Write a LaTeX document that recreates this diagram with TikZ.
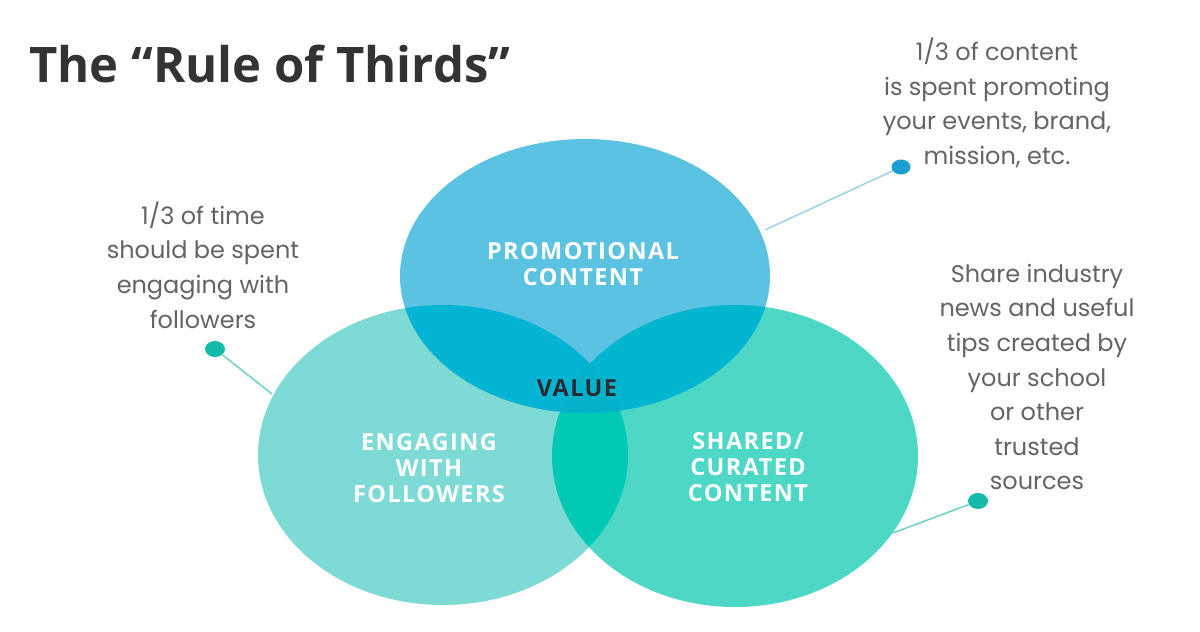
\documentclass[tikz,border=0pt]{standalone}
\usepackage{fontspec}
\setmainfont{Open Sans}
\newfontfamily\notefont{Poppins}
\newfontfamily\labelfont[LetterSpace=6]{Open Sans}
\usepackage{tikz}
\usetikzlibrary{positioning, calc, shapes.geometric}

\definecolor{promoblue}{HTML}{5BC3E1}
\definecolor{engteal}{HTML}{7DDAD5}
\definecolor{shareteal}{HTML}{4DD8C6}
\definecolor{promoeng}{HTML}{04B4D2}
\definecolor{promoshare}{HTML}{04B5CF}
\definecolor{engshare}{HTML}{02C9B4}
\definecolor{allthree}{HTML}{06B2C9}
\definecolor{dotblue}{HTML}{1A9FCF}
\definecolor{dotteal}{HTML}{15BBAA}
\definecolor{lineblue}{HTML}{96D5E6}
\definecolor{lineteal}{HTML}{6FD0C8}
\definecolor{titlegray}{HTML}{333333}
\definecolor{notegray}{HTML}{646464}
\definecolor{valuedark}{HTML}{2B2B35}

\newcommand{\promopath}{(585,276) ellipse [x radius=185, y radius=137]}
\newcommand{\engpath}{(443,455) ellipse [x radius=185, y radius=150]}
\newcommand{\sharepath}{(735,456) ellipse [x radius=183, y radius=151]}

\tikzset{
    circlelabel/.style={text=white, align=center, inner sep=0pt,
        font=\labelfont\fontsize{23.5}{26}\selectfont\bfseries},
    notetext/.style={text=notegray, align=center, inner sep=0pt,
        font=\notefont\fontsize{24}{34.6}\selectfont},
    notedot/.style={ellipse, inner sep=0pt, minimum width=20pt, minimum height=16pt},
    noteline/.style={line width=1.5pt}
}

\begin{document}
\begin{tikzpicture}[x=1pt, y=-1pt]
    \useasboundingbox (0,0) rectangle (1200,632);
    \fill[white] (0,0) rectangle (1200,632);

    % ---------------- TITLE ----------------
    \node[anchor=base west, inner sep=0pt, text=titlegray,
          font=\fontsize{49}{49}\selectfont\bfseries] (title) at (29,82) {The “Rule of Thirds”};

    % ---------------- VENN CIRCLES ----------------
    \fill[engteal] \engpath;
    \fill[shareteal] \sharepath;
    \fill[promoblue] \promopath;

    % Overlaps
    \begin{scope}
        \clip \engpath;
        \fill[engshare] \sharepath;
    \end{scope}
    \begin{scope}
        \clip \promopath;
        \fill[promoeng] \engpath;
        \fill[promoshare] \sharepath;
        \clip \engpath;
        \fill[allthree] \sharepath;
    \end{scope}

    % Circle labels
    \node[circlelabel] (promo) at (583,264) {PROMOTIONAL\\CONTENT};
    \node[circlelabel] (engage) at (429,468) {ENGAGING\\WITH\\FOLLOWERS};
    \node[circlelabel] (share) at (748,467) {SHARED/\\CURATED\\CONTENT};
    \node[circlelabel, text=valuedark] (value) at (577,388) {VALUE};

    % ---------------- NOTES ----------------
    \node[notetext] (promonote) at (997,103) {1/3 of content\\is spent promoting\\your events, brand,\\mission, etc.};
    \node[notetext] (engnote) at (203,265) {1/3 of time\\should be spent\\engaging with\\followers};
    \node[notetext] (sharenote) at (1037,377) {Share industry\\news and useful\\tips created by\\your school\\or other\\trusted\\sources};

    % Dots and leader lines
    \node[notedot, fill=dotblue, minimum width=19pt, minimum height=15pt] (promodot) at (901,167) {};
    \node[notedot, fill=dotteal] (engdot) at (215,349) {};
    \node[notedot, fill=dotteal] (sharedot) at (978,501) {};

    \coordinate (promoedge) at (765,230);
    \coordinate (engedge) at (272,394);
    \coordinate (shareedge) at (893,533);

    \draw[noteline, lineblue] (promodot) -- (promoedge);
    \draw[noteline, lineteal] (engdot) -- (engedge);
    \draw[noteline, lineteal] (sharedot) -- (shareedge);
\end{tikzpicture}
\end{document}
